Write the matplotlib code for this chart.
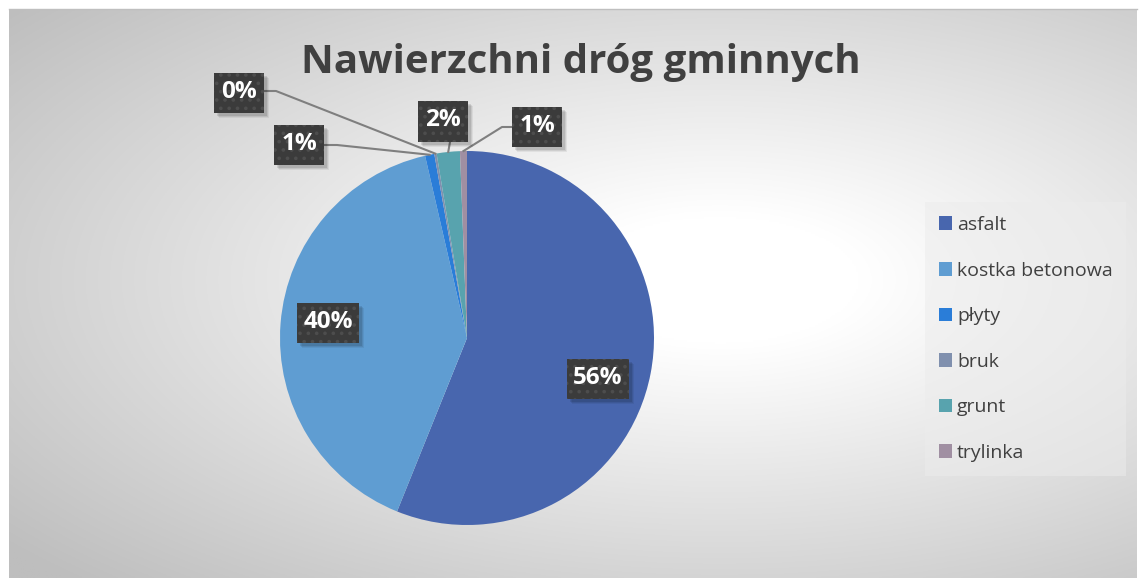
import numpy as np
import matplotlib
matplotlib.use("Agg")
import matplotlib.pyplot as plt
from matplotlib.patches import Rectangle, Patch
from matplotlib.lines import Line2D

# ---- data ----
categories = ["asfalt", "kostka betonowa", "płyty", "bruk", "grunt", "trylinka"]
values = [56.1, 40.3, 0.8, 0.2, 2.0, 0.6]
colors = ["#4866AE", "#5F9DD2", "#2A7DD8", "#8090AE", "#58A3AE", "#A08FA2"]
title = "Nawierzchni dróg gminnych"

W, H = 1139, 578
FONT = "Open Sans"
plt.rcParams["font.family"] = [FONT, "DejaVu Sans"]
plt.rcParams["hatch.linewidth"] = 1.4

fig = plt.figure(figsize=(W / 100, H / 100), dpi=100)
fig.patch.set_facecolor("white")


def fx(x):
    return x / W


def fy(y):
    return 1 - y / H


# ---- background gradient (chart area) ----
bx0, by0, bx1, by1 = 9, 9, 1137, 578
bg = fig.add_axes([fx(bx0), fy(by1), (bx1 - bx0) / W, (by1 - by0) / H])
bg.set_axis_off()
gx = np.linspace(bx0, bx1, 600)
gy = np.linspace(by0, by1, 300)
X, Y = np.meshgrid(gx, gy)
cx, cy = 720, 280
d = np.sqrt(((X - cx) / 700) ** 2 + ((Y - cy) / 320) ** 2)
val = np.clip(255 - 58 * np.clip(d - 0.2, 0, None) ** 1.0, 190, 255) / 255.0
img = np.dstack([val, val, val])
bg.imshow(img, extent=[0, 1, 0, 1], aspect="auto", origin="upper")
bg.set_xlim(0, 1)
bg.set_ylim(0, 1)
fig.add_artist(Line2D([fx(bx0), fx(bx1)], [fy(by0), fy(by0)], color="#bfbfbf", lw=1))

# ---- pie ----
pcx, pcy, R = 467, 338, 187
ax = fig.add_axes([fx(pcx - R), fy(pcy + R), 2 * R / W, 2 * R / H])
ax.set_facecolor("none")
wedges, _ = ax.pie(values, colors=colors, startangle=90, counterclock=False,
                   radius=1, wedgeprops=dict(linewidth=0))
ax.set_xlim(-1, 1)
ax.set_ylim(-1, 1)
ax.set_axis_off()


def p2d(x, y):
    return ((x - pcx) / R, (pcy - y) / R)


def wedge_anchor(w, r=1.0):
    a = np.deg2rad((w.theta1 + w.theta2) / 2)
    return (r * np.cos(a), r * np.sin(a))


# label boxes: center px, width, height
label_boxes = [
    (598, 379, 62, 40),   # asfalt
    (328, 323, 62, 40),   # kostka
    (299, 145, 50, 40),   # płyty
    (239, 93, 50, 40),    # bruk
    (443, 121, 50, 41),   # grunt
    (537, 127, 50, 40),   # trylinka
]

total = sum(values)
for i, (w, v) in enumerate(zip(wedges, values)):
    lx, ly, bw, bh = label_boxes[i]
    # shadow
    for k, a in ((5, 0.06), (4, 0.08), (3, 0.1)):
        fig.add_artist(Rectangle((fx(lx - bw / 2 + k), fy(ly + bh / 2 + k)), bw / W, bh / H,
                                 facecolor="#000000", alpha=a, lw=0, transform=fig.transFigure))
    fig.add_artist(Rectangle((fx(lx - bw / 2), fy(ly + bh / 2)), bw / W, bh / H,
                             facecolor="#3b3b3b", edgecolor="#4d4d4d", hatch="..", lw=0,
                             transform=fig.transFigure))
    fig.text(fx(lx), fy(ly - 1), f"{100 * v / total:.0f}%", color="white", fontsize=17.5,
             fontweight="bold", ha="center", va="center", family=[FONT, "DejaVu Sans"])

# leader lines
lc = "#7f7f7f"


def leader(idx, pts_px):
    ax_x, ax_y = wedge_anchor(wedges[idx])
    xs = [p2d(*p)[0] for p in pts_px] + [ax_x]
    ys = [p2d(*p)[1] for p in pts_px] + [ax_y]
    ax.add_line(Line2D(xs, ys, color=lc, lw=1.5, clip_on=False))


leader(2, [(324, 145), (337, 145)])
leader(3, [(264, 91), (276, 91)])
leader(4, [(450, 142)])
leader(5, [(512, 127), (502, 127)])

# ---- title ----
fig.text(fx(581), fy(62), title, fontsize=29, fontweight="bold", color="#404040",
         ha="center", va="center")

# ---- legend ----
handles = [Patch(facecolor=c, edgecolor="none") for c in colors]
leg = fig.legend(handles, categories, loc="center left",
                 bbox_to_anchor=(fx(925), fy(339)), frameon=True, borderaxespad=0,
                 fontsize=14, labelspacing=1.42, handlelength=0.7, handleheight=0.7,
                 handletextpad=0.25, borderpad=0.7, fancybox=False)
leg.get_frame().set_facecolor("#ececec")
leg.get_frame().set_alpha(0.5)
leg.get_frame().set_linewidth(0)
for t in leg.get_texts():
    t.set_color("#404040")

fig.savefig("out.png", dpi=100)
